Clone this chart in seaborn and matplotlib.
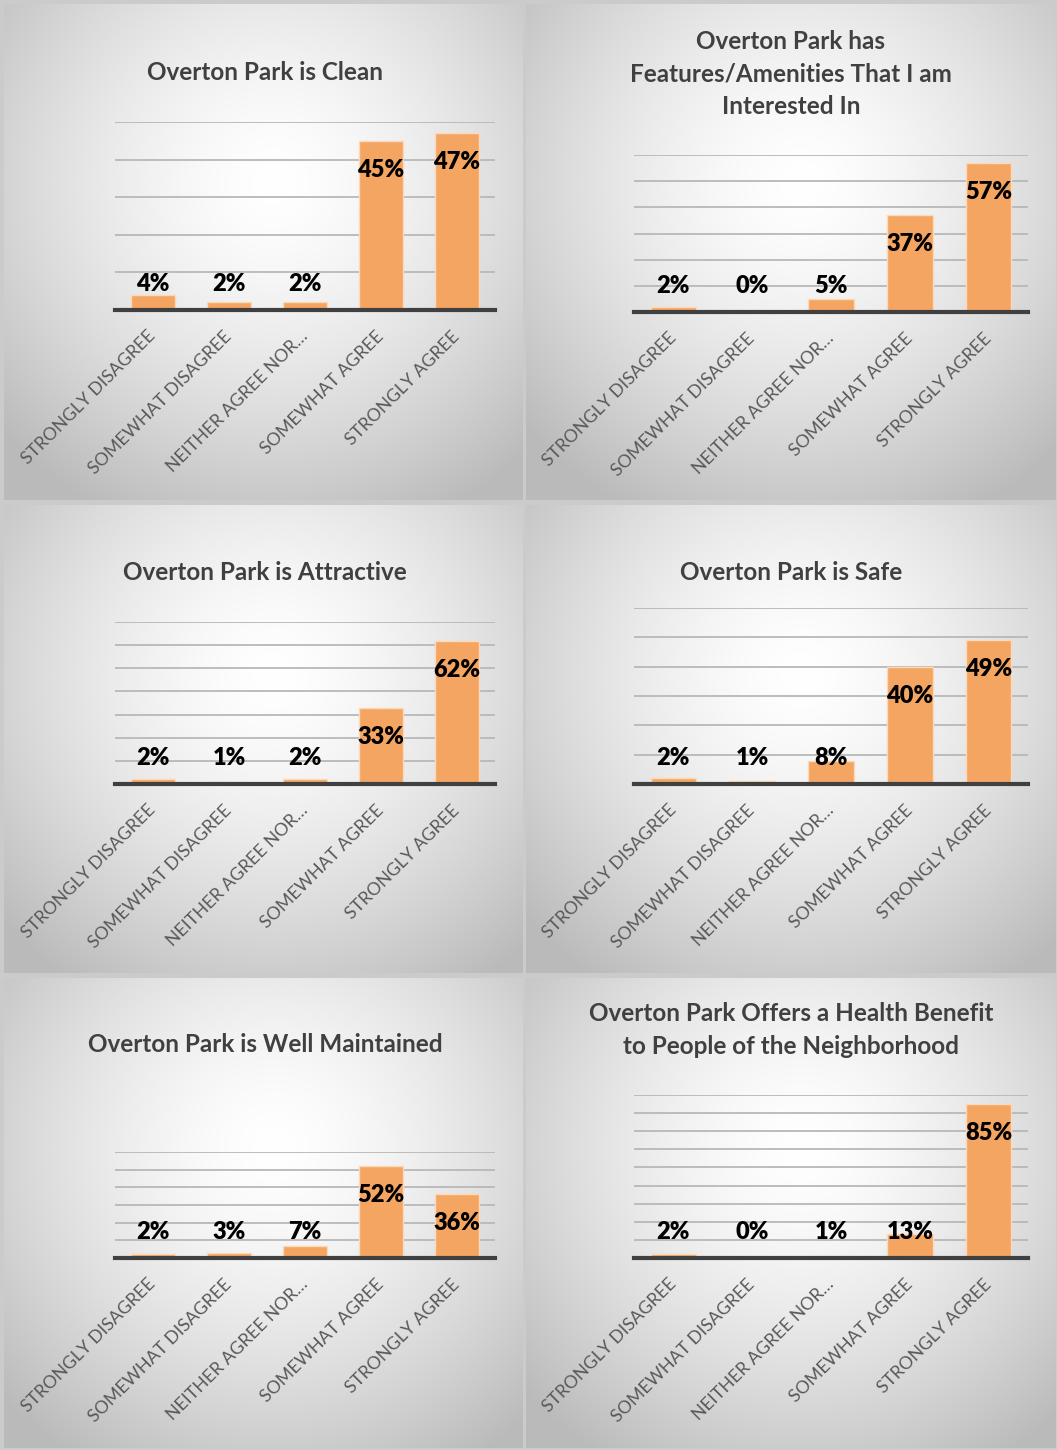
### OVERTON PARK SURVEY - AGREEMENT CHARTS ###

import numpy as np
import matplotlib
matplotlib.use("Agg")
import matplotlib.pyplot as plt
import seaborn as sns

# Survey categories (Excel truncates the middle one)
categories = ["STRONGLY DISAGREE", "SOMEWHAT DISAGREE", "NEITHER AGREE NOR…",
              "SOMEWHAT AGREE", "STRONGLY AGREE"]

# Titles of the six charts
titles = ["Overton Park is Clean",
          "Overton Park has\nFeatures/Amenities That I am\nInterested In",
          "Overton Park is Attractive",
          "Overton Park is Safe",
          "Overton Park is Well Maintained",
          "Overton Park Offers a Health Benefit\nto People of the Neighborhood"]

# Share of responses per chart
clean = [0.04, 0.02, 0.02, 0.45, 0.47]
features = [0.02, 0.00, 0.05, 0.37, 0.57]
attractive = [0.02, 0.01, 0.02, 0.33, 0.62]
safe = [0.02, 0.01, 0.08, 0.40, 0.49]
maintained = [0.02, 0.03, 0.07, 0.52, 0.36]
health = [0.02, 0.00, 0.01, 0.13, 0.85]
series = [clean, features, attractive, safe, maintained, health]

# Axis maximum of each chart
y_max = [0.5, 0.6, 0.7, 0.6, 0.6, 0.9]

W, H = 1057, 1450
bar_color = "#F5A562"

sns.set_theme(style="white")
plt.rcParams["font.family"] = ["Lato", "DejaVu Sans"]

fig = plt.figure(figsize=(W / 100, H / 100), dpi=100)
fig.patch.set_facecolor("#cbcbcb")

# Panel boxes in pixels: (left, top, right, bottom)
panels = [(4, 4, 523, 500), (526, 4, 1056, 500),
          (4, 505, 523, 973), (526, 505, 1056, 973),
          (4, 978, 523, 1448), (526, 978, 1056, 1448)]

# Plot areas in pixels: (left, top, right, bottom)
plot_boxes = [(115, 122, 495, 310), (634, 155, 1028, 312),
              (115, 622, 495, 784), (634, 608, 1028, 784),
              (115, 1152, 495, 1258), (634, 1095, 1028, 1258)]

# Title centers in pixels
title_pos = [(265, 73), (791, 74), (265, 573), (791, 573), (265, 1045), (791, 1030)]


def to_fig(box):
    l, t, r, b = box
    return [l / W, 1 - b / H, (r - l) / W, (b - t) / H]


for k in range(6):
    # radial gradient background of the panel
    pl, pt, pr, pb = panels[k]
    bg = fig.add_axes(to_fig(panels[k]), zorder=0)
    pw, ph = pr - pl, pb - pt
    xx, yy = np.meshgrid(np.arange(pw), np.arange(ph))
    cx, cy = pw * 0.52, ph * 0.36
    r = np.sqrt((xx - cx) ** 2 + (yy - cy) ** 2) / 370.0
    shade = 1 - 0.27 * np.clip(r, 0, 1) ** 1.5
    bg.imshow(np.dstack([shade] * 3), aspect="auto", interpolation="bilinear")
    bg.set_axis_off()

    # bar chart
    ax = fig.add_axes(to_fig(plot_boxes[k]), zorder=2)
    ax.patch.set_alpha(0)
    vals = series[k]
    sns.barplot(x=categories, y=vals, ax=ax, color=bar_color, saturation=1,
                width=0.58, edgecolor="#fbd9bb", linewidth=1, zorder=3)
    ax.set_ylim(0, y_max[k])
    ax.set_xlim(-0.5, 4.5)
    ax.set_yticks(np.arange(0.1, y_max[k] + 0.01, 0.1))
    ax.yaxis.grid(True, color="#b8b8b8", linewidth=1.3, zorder=0)
    ax.set_axisbelow(True)
    ax.tick_params(axis="y", left=False, labelleft=False)
    ax.tick_params(axis="x", bottom=False, pad=11)
    for s in ["top", "right", "left"]:
        ax.spines[s].set_visible(False)
    ax.spines["bottom"].set_color("#404040")
    ax.spines["bottom"].set_linewidth(3)
    ax.spines["bottom"].set_zorder(5)
    ax.set_xticks(range(len(categories)))
    ax.set_xticklabels(categories, rotation=45, ha="right", va="center",
                       rotation_mode="anchor", fontsize=12.8, color="#595959")
    ax.set_xlabel("")
    ax.set_ylabel("")

    # data labels: inside the top of tall bars, just above the axis for short ones
    for i, v in enumerate(vals):
        if v >= 0.3:
            ax.annotate(f"{v:.0%}", xy=(i, v), xytext=(0, -29), textcoords="offset pixels",
                        ha="center", va="center", fontsize=17, fontweight="heavy",
                        color="black", zorder=6)
        else:
            ax.annotate(f"{v:.0%}", xy=(i, 0), xytext=(0, 26), textcoords="offset pixels",
                        ha="center", va="center", fontsize=17, fontweight="heavy",
                        color="black", zorder=6)

    tx, ty = title_pos[k]
    fig.text(tx / W, 1 - ty / H, titles[k], ha="center", va="center", fontsize=17.5,
             fontweight="bold", color="#404040", linespacing=1.5, zorder=3)

fig.savefig("out.png", dpi=100)
